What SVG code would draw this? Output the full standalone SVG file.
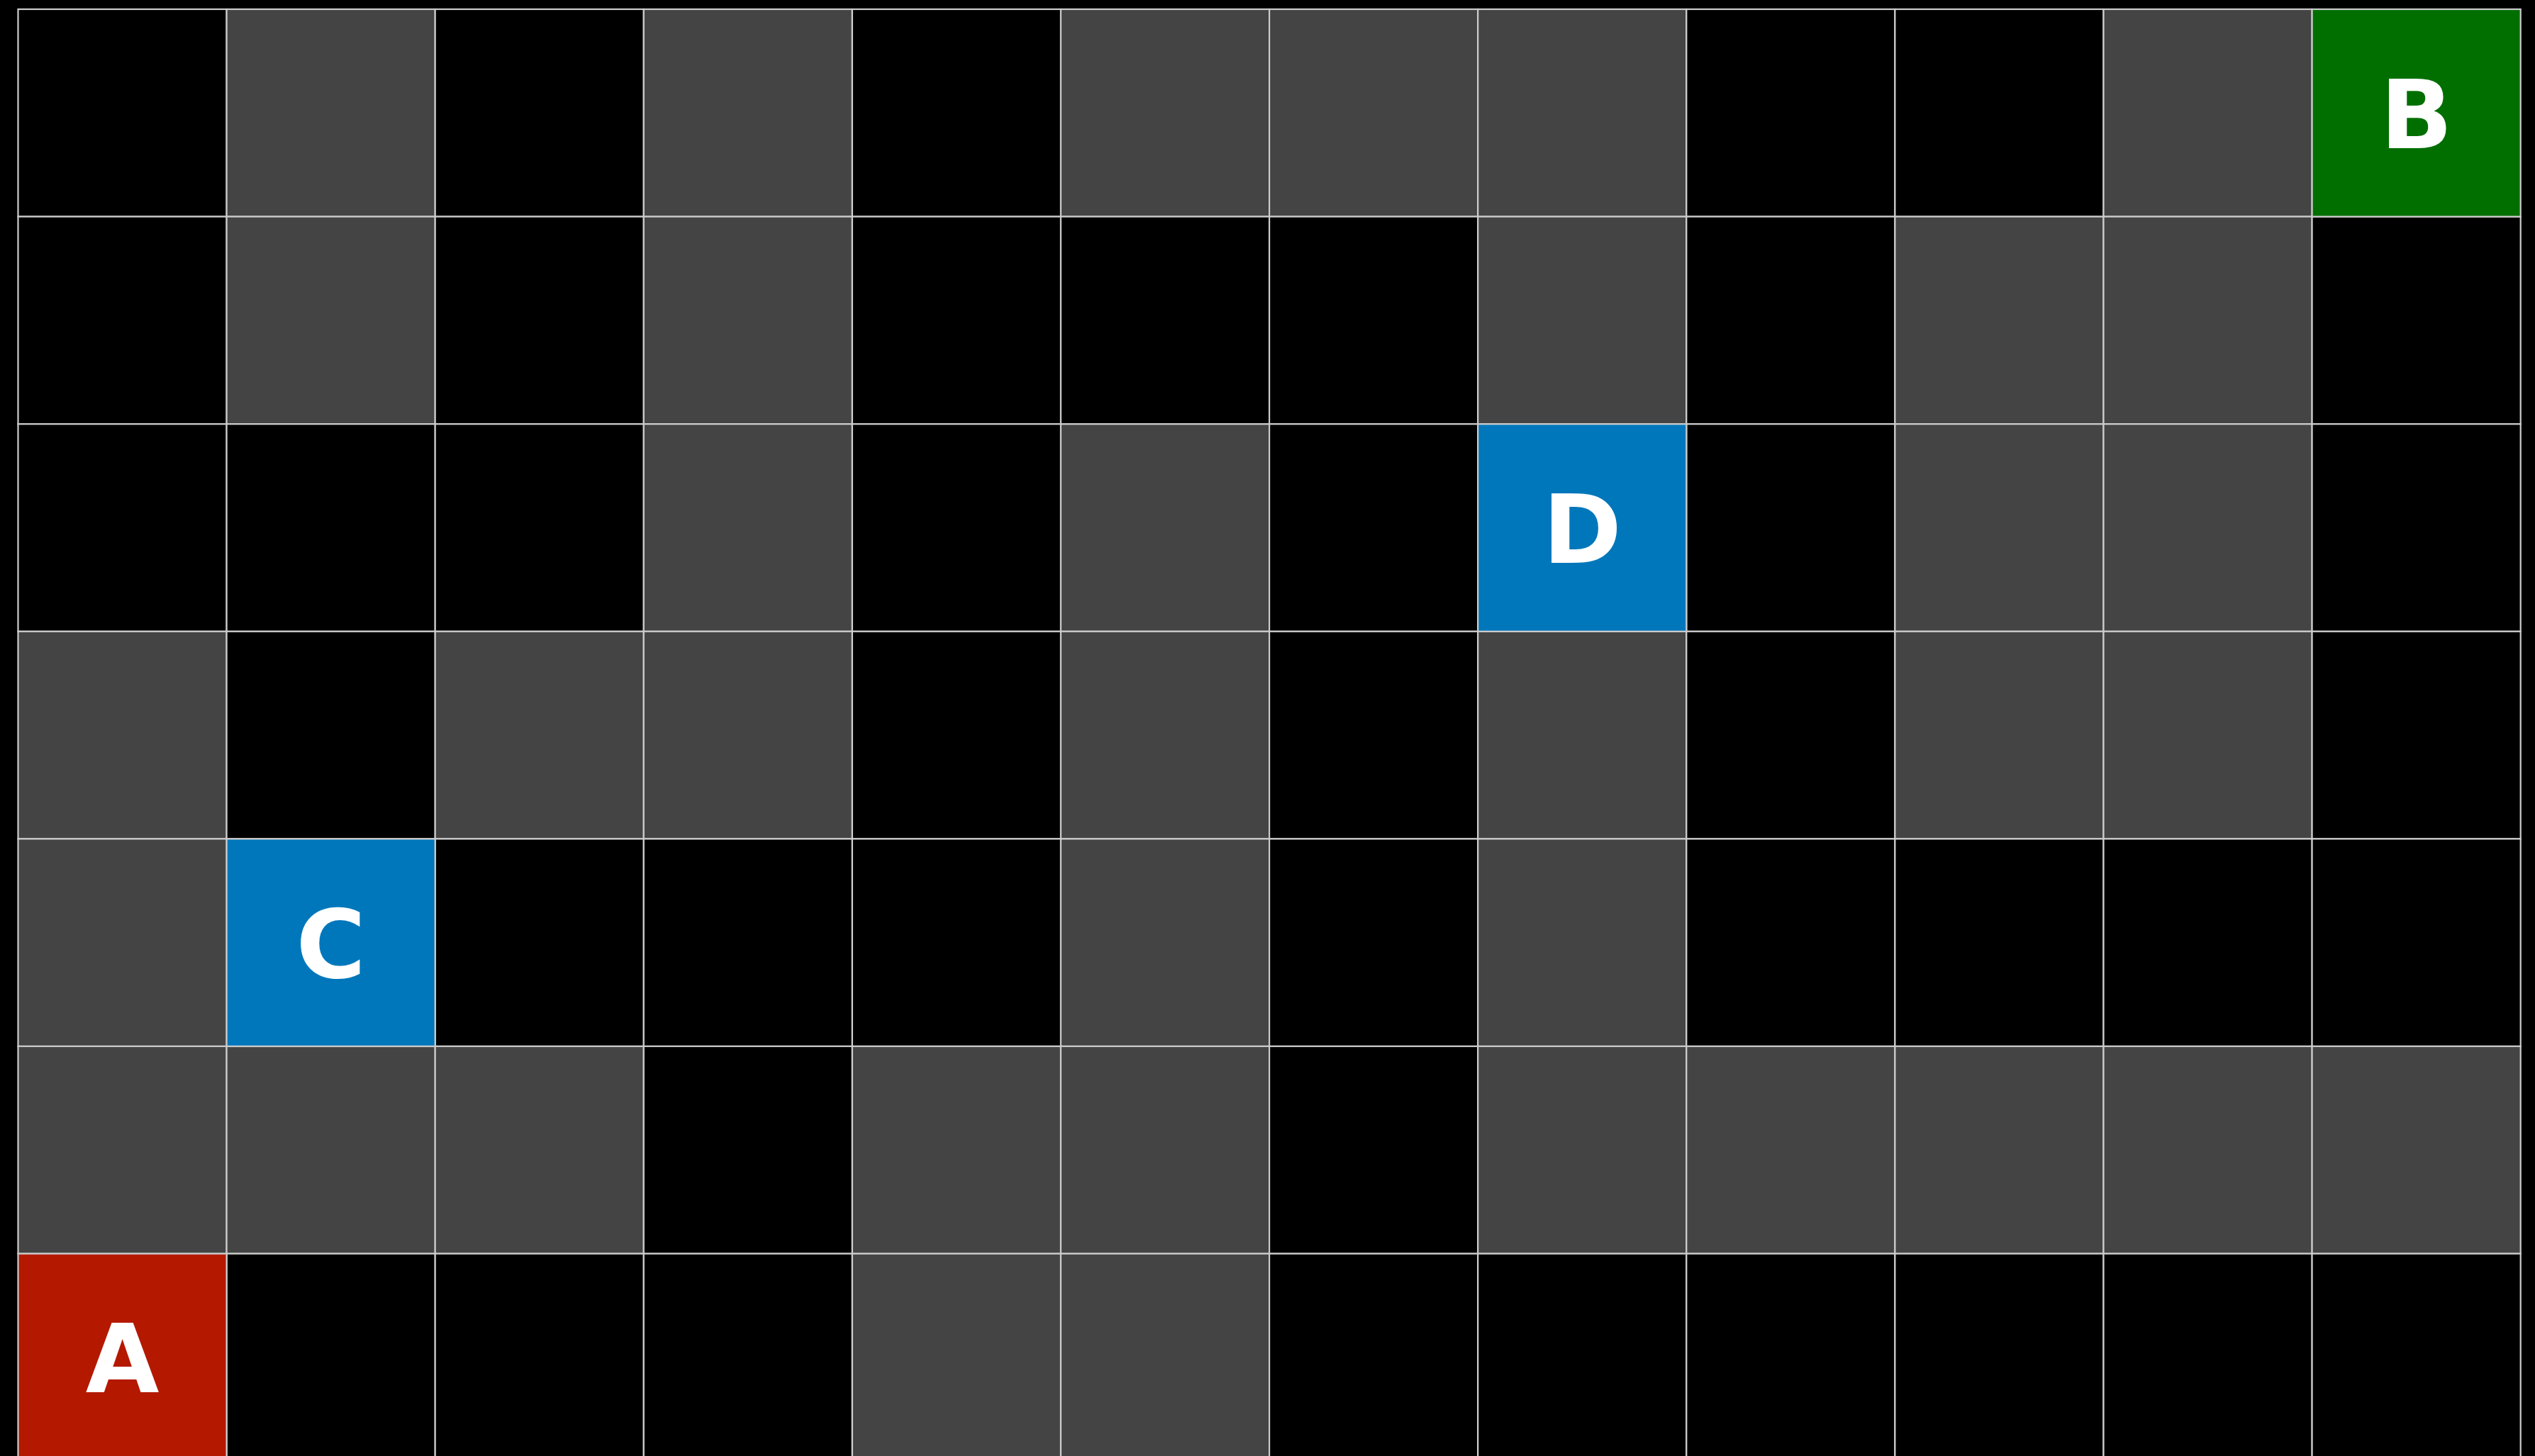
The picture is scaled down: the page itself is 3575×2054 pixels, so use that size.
<svg xmlns="http://www.w3.org/2000/svg" width="3575" height="2054" viewBox="0 0 3575 2054">
<style>
.c{stroke:#cccccc;stroke-width:2.2}
.k{fill:#000000}
.g{fill:#444444}
.red{fill:#b41900}
.grn{fill:#006f00}
.blu{fill:#0077bb}
.t{font-family:"DejaVu Sans",sans-serif;font-weight:bold;font-size:134px;fill:#ffffff;text-anchor:middle}
</style>
<rect width="3575" height="2054" fill="#000000"/>
<g id="grid">
<!-- row 0 y=13 -->
<rect class="c k" x="25.5" y="13" width="294.1" height="292.6"/>
<rect class="c g" x="319.6" y="13" width="294.1" height="292.6"/>
<rect class="c k" x="613.7" y="13" width="294.1" height="292.6"/>
<rect class="c g" x="907.8" y="13" width="294.1" height="292.6"/>
<rect class="c k" x="1201.9" y="13" width="294.1" height="292.6"/>
<rect class="c g" x="1496" y="13" width="294.1" height="292.6"/>
<rect class="c g" x="1790.1" y="13" width="294.1" height="292.6"/>
<rect class="c g" x="2084.2" y="13" width="294.1" height="292.6"/>
<rect class="c k" x="2378.3" y="13" width="294.1" height="292.6"/>
<rect class="c k" x="2672.4" y="13" width="294.1" height="292.6"/>
<rect class="c g" x="2966.5" y="13" width="294.1" height="292.6"/>
<!-- row 1 y=305.6 -->
<rect class="c k" x="25.5" y="305.6" width="294.1" height="292.6"/>
<rect class="c g" x="319.6" y="305.6" width="294.1" height="292.6"/>
<rect class="c k" x="613.7" y="305.6" width="294.1" height="292.6"/>
<rect class="c g" x="907.8" y="305.6" width="294.1" height="292.6"/>
<rect class="c k" x="1201.9" y="305.6" width="294.1" height="292.6"/>
<rect class="c k" x="1496" y="305.6" width="294.1" height="292.6"/>
<rect class="c k" x="1790.1" y="305.6" width="294.1" height="292.6"/>
<rect class="c g" x="2084.2" y="305.6" width="294.1" height="292.6"/>
<rect class="c k" x="2378.3" y="305.6" width="294.1" height="292.6"/>
<rect class="c g" x="2672.4" y="305.6" width="294.1" height="292.6"/>
<rect class="c g" x="2966.5" y="305.6" width="294.1" height="292.6"/>
<rect class="c k" x="3260.6" y="305.6" width="294.1" height="292.6"/>
<!-- row 2 y=598.2 -->
<rect class="c k" x="25.5" y="598.2" width="294.1" height="292.6"/>
<rect class="c k" x="319.6" y="598.2" width="294.1" height="292.6"/>
<rect class="c k" x="613.7" y="598.2" width="294.1" height="292.6"/>
<rect class="c g" x="907.8" y="598.2" width="294.1" height="292.6"/>
<rect class="c k" x="1201.9" y="598.2" width="294.1" height="292.6"/>
<rect class="c g" x="1496" y="598.2" width="294.1" height="292.6"/>
<rect class="c k" x="1790.1" y="598.2" width="294.1" height="292.6"/>
<rect class="c k" x="2378.3" y="598.2" width="294.1" height="292.6"/>
<rect class="c g" x="2672.4" y="598.2" width="294.1" height="292.6"/>
<rect class="c g" x="2966.5" y="598.2" width="294.1" height="292.6"/>
<rect class="c k" x="3260.6" y="598.2" width="294.1" height="292.6"/>
<!-- row 3 y=890.8 -->
<rect class="c g" x="25.5" y="890.8" width="294.1" height="292.6"/>
<rect class="c k" x="319.6" y="890.8" width="294.1" height="292.6"/>
<rect class="c g" x="613.7" y="890.8" width="294.1" height="292.6"/>
<rect class="c g" x="907.8" y="890.8" width="294.1" height="292.6"/>
<rect class="c k" x="1201.9" y="890.8" width="294.1" height="292.6"/>
<rect class="c g" x="1496" y="890.8" width="294.1" height="292.6"/>
<rect class="c k" x="1790.1" y="890.8" width="294.1" height="292.6"/>
<rect class="c g" x="2084.2" y="890.8" width="294.1" height="292.6"/>
<rect class="c k" x="2378.3" y="890.8" width="294.1" height="292.6"/>
<rect class="c g" x="2672.4" y="890.8" width="294.1" height="292.6"/>
<rect class="c g" x="2966.5" y="890.8" width="294.1" height="292.6"/>
<rect class="c k" x="3260.6" y="890.8" width="294.1" height="292.6"/>
<!-- row 4 y=1183.4 -->
<rect class="c g" x="25.5" y="1183.4" width="294.1" height="292.6"/>
<rect class="c k" x="613.7" y="1183.4" width="294.1" height="292.6"/>
<rect class="c k" x="907.8" y="1183.4" width="294.1" height="292.6"/>
<rect class="c k" x="1201.9" y="1183.4" width="294.1" height="292.6"/>
<rect class="c g" x="1496" y="1183.4" width="294.1" height="292.6"/>
<rect class="c k" x="1790.1" y="1183.4" width="294.1" height="292.6"/>
<rect class="c g" x="2084.2" y="1183.4" width="294.1" height="292.6"/>
<rect class="c k" x="2378.3" y="1183.4" width="294.1" height="292.6"/>
<rect class="c k" x="2672.4" y="1183.4" width="294.1" height="292.6"/>
<rect class="c k" x="2966.5" y="1183.4" width="294.1" height="292.6"/>
<rect class="c k" x="3260.6" y="1183.4" width="294.1" height="292.6"/>
<!-- row 5 y=1476 -->
<rect class="c g" x="25.5" y="1476" width="294.1" height="292.6"/>
<rect class="c g" x="319.6" y="1476" width="294.1" height="292.6"/>
<rect class="c g" x="613.7" y="1476" width="294.1" height="292.6"/>
<rect class="c k" x="907.8" y="1476" width="294.1" height="292.6"/>
<rect class="c g" x="1201.9" y="1476" width="294.1" height="292.6"/>
<rect class="c g" x="1496" y="1476" width="294.1" height="292.6"/>
<rect class="c k" x="1790.1" y="1476" width="294.1" height="292.6"/>
<rect class="c g" x="2084.2" y="1476" width="294.1" height="292.6"/>
<rect class="c g" x="2378.3" y="1476" width="294.1" height="292.6"/>
<rect class="c g" x="2672.4" y="1476" width="294.1" height="292.6"/>
<rect class="c g" x="2966.5" y="1476" width="294.1" height="292.6"/>
<rect class="c g" x="3260.6" y="1476" width="294.1" height="292.6"/>
<!-- row 6 y=1768.6 -->
<rect class="c k" x="319.6" y="1768.6" width="294.1" height="292.6"/>
<rect class="c k" x="613.7" y="1768.6" width="294.1" height="292.6"/>
<rect class="c k" x="907.8" y="1768.6" width="294.1" height="292.6"/>
<rect class="c g" x="1201.9" y="1768.6" width="294.1" height="292.6"/>
<rect class="c g" x="1496" y="1768.6" width="294.1" height="292.6"/>
<rect class="c k" x="1790.1" y="1768.6" width="294.1" height="292.6"/>
<rect class="c k" x="2084.2" y="1768.6" width="294.1" height="292.6"/>
<rect class="c k" x="2378.3" y="1768.6" width="294.1" height="292.6"/>
<rect class="c k" x="2672.4" y="1768.6" width="294.1" height="292.6"/>
<rect class="c k" x="2966.5" y="1768.6" width="294.1" height="292.6"/>
<rect class="c k" x="3260.6" y="1768.6" width="294.1" height="292.6"/>
</g>
<g id="connectors"></g>
<g id="node-B">
<rect class="c grn" x="3260.6" y="13" width="294.1" height="292.6"/>
<text class="t" x="3407.7" y="208.5">B</text>
</g>
<g id="node-D">
<rect class="c blu" x="2084.2" y="598.2" width="294.1" height="292.6"/>
<text class="t" x="2231.3" y="793.5">D</text>
</g>
<g id="node-C">
<rect class="c blu" x="319.6" y="1183.4" width="294.1" height="292.6"/>
<text class="t" x="466.7" y="1378.7">C</text>
</g>
<g id="node-A">
<rect class="c red" x="25.5" y="1768.6" width="294.1" height="292.6"/>
<text class="t" x="172.6" y="1963.9">A</text>
</g>
</svg>
